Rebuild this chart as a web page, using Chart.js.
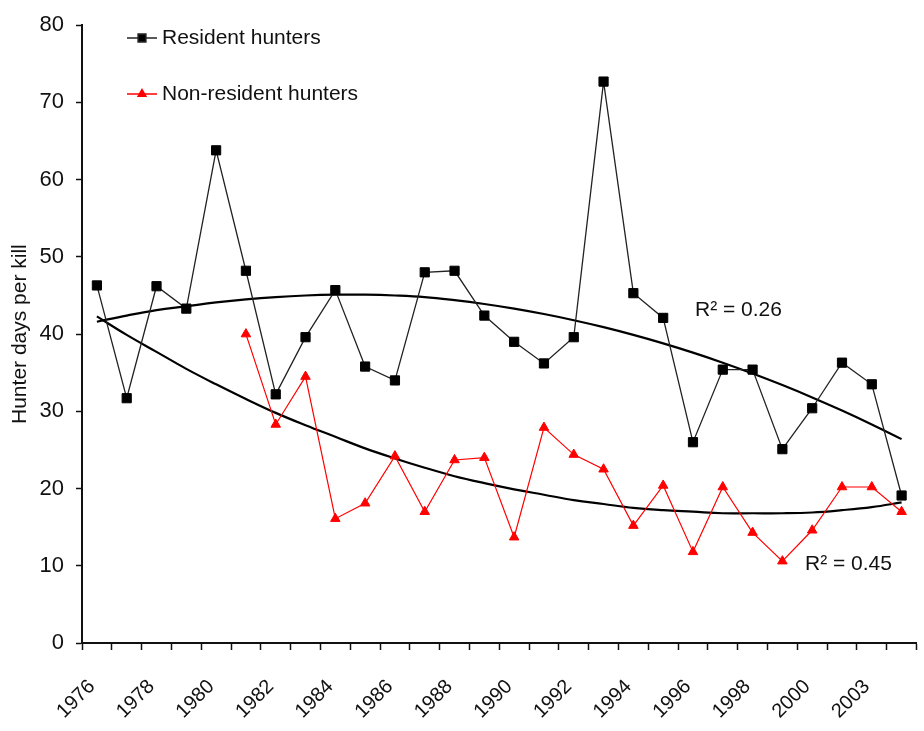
<!DOCTYPE html>
<html>
<head>
<meta charset="utf-8">
<title>Hunter days per kill</title>
<script src="https://cdn.jsdelivr.net/npm/chart.js@4/dist/chart.umd.min.js"></script>
<style>
  html, body { margin: 0; padding: 0; background: #fff; }
  #wrap { width: 924px; height: 731px; position: relative; }
</style>
</head>
<body>
<div id="wrap"><canvas id="chart"></canvas></div>
<script>
// ── Data ──────────────────────────────────────────────────
const years = [
  '1976', '1977', '1978', '1979', '1980', '1981', '1982', '1983', '1984', '1985',
  '1986', '1987', '1988', '1989', '1990', '1991', '1992', '1993', '1994', '1995',
  '1996', '1997', '1998', '1999', '2000', '2001', '2003', '2004',
];

const resident = [
  46.3, 31.7, 46.2, 43.3, 63.8, 48.2, 32.2, 39.6, 45.7, 35.8,
  34.0, 48.0, 48.2, 42.4, 39.0, 36.2, 39.6, 72.7, 45.3, 42.1,
  26.0, 35.4, 35.4, 25.1, 30.4, 36.3, 33.5, 19.1,
];

const nonResident = [
  null, null, null, null, null, 40.0, 28.3, 34.5, 16.1, 18.1,
  24.2, 17.0, 23.7, 24.0, 13.7, 27.9, 24.4, 22.5, 15.2, 20.4,
  11.8, 20.2, 14.3, 10.6, 14.6, 20.2, 20.2, 17.0,
];

// polynomial trend lines
const residentTrend = [
  41.6, 42.4, 43.1, 43.6, 44.1, 44.5, 44.8, 45.0, 45.1, 45.1,
  45.0, 44.8, 44.4, 43.9, 43.3, 42.6, 41.8, 40.9, 39.9, 38.8,
  37.6, 36.3, 34.9, 33.4, 31.8, 30.1, 28.3, 26.4,
];

const nonResidentTrend = [
  42.3, 39.9, 37.7, 35.5, 33.5, 31.6, 29.8, 28.2, 26.7, 25.2,
  23.9, 22.7, 21.6, 20.7, 19.9, 19.2, 18.5, 18.0, 17.5, 17.2,
  17.0, 16.8, 16.8, 16.8, 16.9, 17.2, 17.6, 18.2,
];

const r2Labels = ['R² = 0.26', 'R² = 0.45'];

// ── Chart ─────────────────────────────────────────────────
const FONT = '"Liberation Sans", Arial, sans-serif';
const INK  = '#111';

const overlay = {
  id: 'overlay',
  afterDraw(chart) {
    const ctx = chart.ctx;
    const ds  = chart.data.datasets;
    ctx.save();
    ctx.font = `21px ${FONT}`;
    ctx.textBaseline = 'middle';
    ctx.fillStyle = INK;

    // legend
    [[0, 38], [1, 94]].forEach(([i, y]) => {
      const d = ds[i];
      ctx.strokeStyle = d.borderColor;
      ctx.lineWidth = 1.5;
      ctx.beginPath();
      ctx.moveTo(127, y);
      ctx.lineTo(157, y);
      ctx.stroke();
      ctx.fillStyle = d.pointBackgroundColor;
      Chart.helpers.drawPoint(ctx, {
        pointStyle: d.pointStyle, radius: d.pointRadius - 1, borderWidth: 1, rotation: 0,
      }, 142, y);
      ctx.fillStyle = INK;
      ctx.fillText(d.label, 162, y);
    });

    // R² notes
    ctx.fillText(r2Labels[0], 695, 310);
    ctx.fillText(r2Labels[1], 805, 564);
    ctx.restore();
  },
};

new Chart(document.getElementById('chart'), {
  type: 'line',
  data: {
    labels: years,
    datasets: [
      {
        label: 'Resident hunters',
        data: resident,
        borderColor: '#222',
        borderWidth: 1.3,
        pointStyle: 'rect',
        pointRadius: 6.5,
        pointBackgroundColor: '#000',
        pointBorderColor: '#000',
        pointBorderWidth: 1,
        tension: 0,
      },
      {
        label: 'Non-resident hunters',
        data: nonResident,
        borderColor: '#ff0000',
        borderWidth: 1.2,
        pointStyle: 'triangle',
        pointRadius: 5.5,
        pointBackgroundColor: '#ff0000',
        pointBorderColor: '#ff0000',
        pointBorderWidth: 1,
        tension: 0,
      },
      {
        label: 'Resident trend',
        data: residentTrend,
        borderColor: '#000',
        borderWidth: 2.2,
        pointRadius: 0,
        tension: 0.4,
      },
      {
        label: 'Non-resident trend',
        data: nonResidentTrend,
        borderColor: '#000',
        borderWidth: 2.2,
        pointRadius: 0,
        tension: 0.4,
      },
    ],
  },
  options: {
    responsive: true,
    maintainAspectRatio: false,
    animation: false,
    layout: { padding: { top: 20, right: 3, bottom: 0, left: 0 } },
    plugins: {
      legend: { display: false },
      tooltip: { enabled: false },
    },
    scales: {
      x: {
        type: 'category',
        offset: true,
        grid: {
          offset: true,
          drawOnChartArea: false,
          drawTicks: true,
          tickLength: 7,
          tickColor: INK,
          tickWidth: 1.5,
        },
        border: { display: true, color: INK, width: 2 },
        ticks: {
          autoSkip: false,
          minRotation: 45,
          maxRotation: 45,
          padding: 25,
          labelOffset: -5,
          color: INK,
          font: { family: FONT, size: 20 },
          callback: function (v, i) { return i % 2 === 0 ? this.getLabelForValue(v) : ''; },
        },
        afterFit: s => { s.height = 88; s.paddingLeft = 0; s.paddingRight = 0; },
      },
      y: {
        min: 0,
        max: 80,
        grid: {
          drawOnChartArea: false,
          drawTicks: true,
          tickLength: 6,
          tickColor: INK,
          tickWidth: 1.5,
        },
        border: { display: true, color: INK, width: 2 },
        ticks: {
          stepSize: 10,
          padding: 12,
          color: INK,
          font: { family: FONT, size: 22 },
        },
        title: {
          display: true,
          text: 'Hunter days per kill',
          color: INK,
          font: { family: FONT, size: 21 },
          padding: { top: 8, bottom: 0 },
        },
        afterFit: s => { s.width = 82; },
      },
    },
  },
  plugins: [overlay],
});
</script>
</body>
</html>
